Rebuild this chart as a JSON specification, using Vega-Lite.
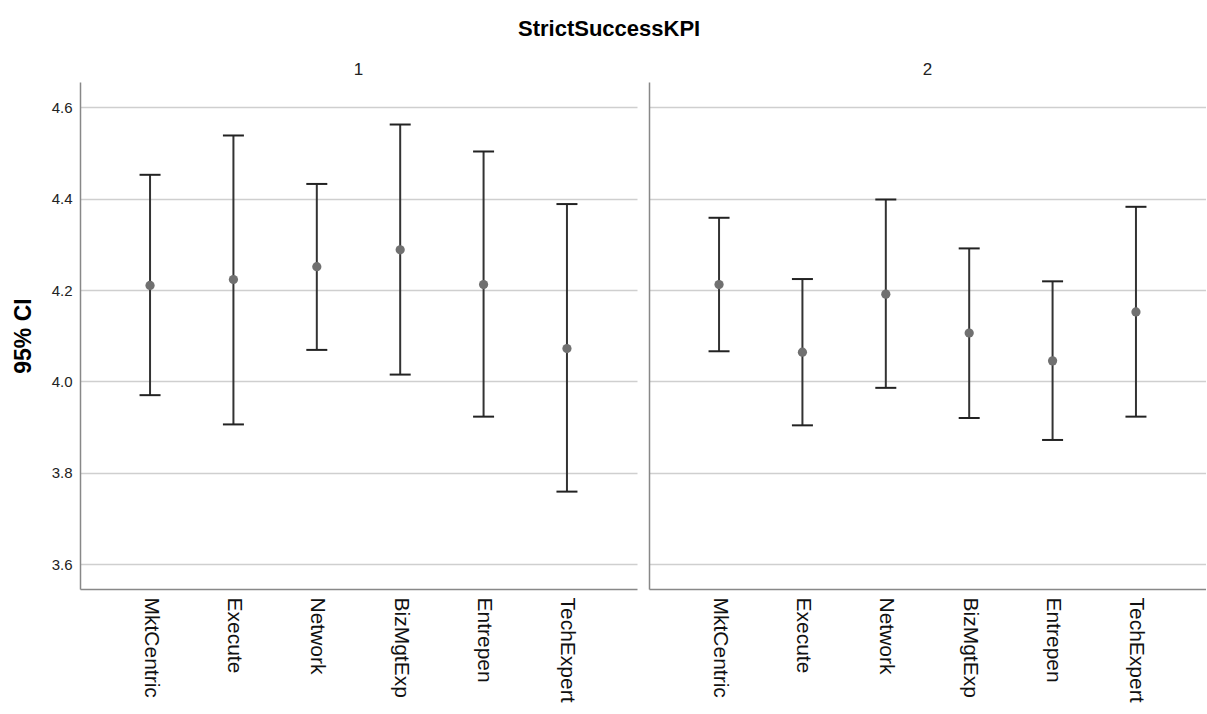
{
  "$schema": "https://vega.github.io/schema/vega-lite/v6.json",
  "padding": {"left": 12, "top": 18, "right": 0, "bottom": 0},
  "title": {"text": "StrictSuccessKPI", "fontSize": 22, "font": "Liberation Sans", "fontWeight": "bold", "color": "#000000", "anchor": "middle", "offset": 20},
  "data": {"values": [
    {"panel": "1", "cat": "MktCentric", "lo": 3.970, "mean": 4.210, "hi": 4.452},
    {"panel": "1", "cat": "Execute", "lo": 3.906, "mean": 4.223, "hi": 4.538},
    {"panel": "1", "cat": "Network", "lo": 4.069, "mean": 4.251, "hi": 4.432},
    {"panel": "1", "cat": "BizMgtExp", "lo": 4.015, "mean": 4.288, "hi": 4.562},
    {"panel": "1", "cat": "Entrepen", "lo": 3.923, "mean": 4.212, "hi": 4.503},
    {"panel": "1", "cat": "TechExpert", "lo": 3.759, "mean": 4.072, "hi": 4.388},
    {"panel": "2", "cat": "MktCentric", "lo": 4.066, "mean": 4.212, "hi": 4.358},
    {"panel": "2", "cat": "Execute", "lo": 3.904, "mean": 4.064, "hi": 4.224},
    {"panel": "2", "cat": "Network", "lo": 3.986, "mean": 4.191, "hi": 4.398},
    {"panel": "2", "cat": "BizMgtExp", "lo": 3.920, "mean": 4.106, "hi": 4.291},
    {"panel": "2", "cat": "Entrepen", "lo": 3.872, "mean": 4.045, "hi": 4.219},
    {"panel": "2", "cat": "TechExpert", "lo": 3.923, "mean": 4.152, "hi": 4.382}
  ]},
  "spacing": 12,
  "hconcat": [
    {
      "title": {"text": "1", "fontSize": 17, "fontWeight": "normal", "font": "Liberation Sans", "color": "#222222", "anchor": "middle", "offset": 3},
      "width": 557,
      "height": 507,
      "transform": [{"filter": "datum.panel === '1'"}],
      "encoding": {
        "x": {"field": "cat", "type": "nominal", "sort": ["MktCentric", "Execute", "Network", "BizMgtExp", "Entrepen", "TechExpert"], "scale": {"type": "point", "padding": 0.84}, "axis": {"title": null, "labelAngle": 90, "labelFontSize": 21, "labelFont": "Liberation Sans", "labelColor": "#111111", "ticks": false, "labelPadding": 8, "domainColor": "#888888", "domainWidth": 1.5, "grid": false}}
      },
      "layer": [
        {"mark": {"type": "rule", "strokeWidth": 2, "color": "#333333"},
         "encoding": {"y": {"field": "lo", "type": "quantitative", "scale": {"domain": [3.546, 4.655], "nice": false, "zero": false}, "axis": {"title": "95% CI", "titleFontSize": 23, "titleFont": "Liberation Sans", "titleFontWeight": "bold", "titleColor": "#000000", "titlePadding": 16, "values": [3.6, 3.8, 4.0, 4.2, 4.4, 4.6], "format": ".1f", "labelFontSize": 15, "labelFont": "Liberation Sans", "labelColor": "#222222", "ticks": false, "labelPadding": 8, "domainColor": "#888888", "domainWidth": 1.5, "grid": true, "gridColor": "#cfcfcf", "gridWidth": 1.5}},
                      "y2": {"field": "hi"}}},
        {"mark": {"type": "tick", "thickness": 2, "size": 21, "color": "#222222", "opacity": 1}, "encoding": {"y": {"field": "lo", "type": "quantitative"}}},
        {"mark": {"type": "tick", "thickness": 2, "size": 21, "color": "#222222", "opacity": 1}, "encoding": {"y": {"field": "hi", "type": "quantitative"}}},
        {"mark": {"type": "point", "filled": true, "size": 85, "color": "#707070", "opacity": 1}, "encoding": {"y": {"field": "mean", "type": "quantitative"}}}
      ]
    },
    {
      "title": {"text": "2", "fontSize": 17, "fontWeight": "normal", "font": "Liberation Sans", "color": "#222222", "anchor": "middle", "offset": 3},
      "width": 557,
      "height": 507,
      "transform": [{"filter": "datum.panel === '2'"}],
      "encoding": {
        "x": {"field": "cat", "type": "nominal", "sort": ["MktCentric", "Execute", "Network", "BizMgtExp", "Entrepen", "TechExpert"], "scale": {"type": "point", "padding": 0.84}, "axis": {"title": null, "labelAngle": 90, "labelFontSize": 21, "labelFont": "Liberation Sans", "labelColor": "#111111", "ticks": false, "labelPadding": 8, "domainColor": "#888888", "domainWidth": 1.5, "grid": false}}
      },
      "layer": [
        {"mark": {"type": "rule", "strokeWidth": 2, "color": "#333333"},
         "encoding": {"y": {"field": "lo", "type": "quantitative", "scale": {"domain": [3.546, 4.655], "nice": false, "zero": false}, "axis": {"title": null, "values": [3.6, 3.8, 4.0, 4.2, 4.4, 4.6], "labels": false, "ticks": false, "domainColor": "#888888", "domainWidth": 1.5, "grid": true, "gridColor": "#cfcfcf", "gridWidth": 1.5}},
                      "y2": {"field": "hi"}}},
        {"mark": {"type": "tick", "thickness": 2, "size": 21, "color": "#222222", "opacity": 1}, "encoding": {"y": {"field": "lo", "type": "quantitative"}}},
        {"mark": {"type": "tick", "thickness": 2, "size": 21, "color": "#222222", "opacity": 1}, "encoding": {"y": {"field": "hi", "type": "quantitative"}}},
        {"mark": {"type": "point", "filled": true, "size": 85, "color": "#707070", "opacity": 1}, "encoding": {"y": {"field": "mean", "type": "quantitative"}}}
      ]
    }
  ],
  "config": {"view": {"stroke": null}, "background": "#ffffff"}
}
